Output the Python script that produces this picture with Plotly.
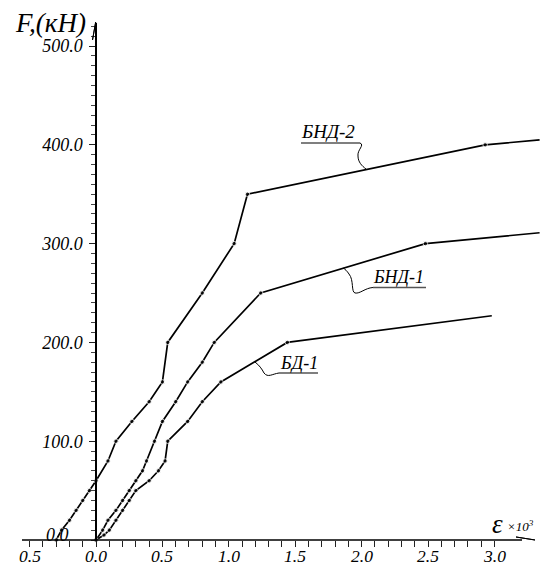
import numpy as np
import plotly.graph_objects as go

W, H = 540, 565

# ---------------- data (strain x10^3, load kN) ----------------
bnd2_eps = [-0.30, -0.26, -0.20, -0.15, -0.10, -0.05, 0.00, 0.09, 0.15, 0.27, 0.40, 0.50, 0.54, 0.80, 1.04, 1.14, 2.93, 3.34]
bnd2_F = [0, 10, 20, 30, 40, 50, 60, 80, 100, 120, 140, 160, 200, 250, 300, 350, 400, 405]

bnd1_eps = [0.00, 0.05, 0.09, 0.15, 0.20, 0.25, 0.30, 0.35, 0.38, 0.44, 0.50, 0.60, 0.69, 0.80, 0.89, 1.24, 2.48, 3.34]
bnd1_F = [0, 10, 20, 30, 40, 50, 60, 70, 80, 100, 120, 140, 160, 180, 200, 250, 300, 311]

bd1_eps = [0.00, 0.06, 0.10, 0.15, 0.20, 0.25, 0.30, 0.40, 0.47, 0.52, 0.54, 0.69, 0.80, 0.94, 1.44, 2.98]
bd1_F = [0, 5, 10, 20, 30, 40, 50, 60, 70, 80, 100, 120, 140, 160, 200, 227]

x_tickvals = [-0.5, 0.0, 0.5, 1.0, 1.5, 2.0, 2.5, 3.0]
x_ticktext = ["0.5", "0.0", "0.5", "1.0", "1.5", "2.0", "2.5", "3.0"]
y_tickvals = [100, 200, 300, 400, 500]
y_ticktext = ["100.0", "200.0", "300.0", "400.0", "500.0"]

series = [("БНД-2", bnd2_eps, bnd2_F), ("БНД-1", bnd1_eps, bnd1_F), ("БД-1", bd1_eps, bd1_F)]

SERIF = "Liberation Serif, Times New Roman, DejaVu Serif, serif"


def P(px, py):
    return px / W, 1 - py / H


def path(points, close=False):
    s = ""
    for cmd, pts in points:
        coords = " ".join("%.5f,%.5f" % P(a, b) for a, b in pts)
        s += cmd + coords + " "
    if close:
        s += "Z"
    return s


fig = go.Figure()
for name, xs, ys in series:
    sizes = [4.5] * (len(xs) - 1) + [0]
    fig.add_trace(go.Scatter(
        x=xs, y=ys, mode="lines+markers", name=name,
        line=dict(color="black", width=1.7),
        marker=dict(size=sizes, color="black"),
        cliponaxis=False, hoverinfo="skip"))

minor_x = [v for v in np.round(np.arange(-0.5, 3.05, 0.1), 2) if abs(v * 2 - round(v * 2)) > 1e-6]

fig.update_layout(
    template="none",
    width=W, height=H, margin=dict(l=0, r=0, t=0, b=0, autoexpand=False),
    paper_bgcolor="white", plot_bgcolor="white", showlegend=False,
    xaxis=dict(domain=[0, 1], range=[-0.723, 3.343], anchor="y", automargin=False,
               showgrid=False, zeroline=False, showline=False, showticklabels=False,
               ticks="outside", ticklen=6, tickwidth=1, tickcolor="#222",
               tickmode="array", tickvals=x_tickvals,
               minor=dict(tickmode="array", tickvals=minor_x, ticks="outside",
                          ticklen=6, tickwidth=1, tickcolor="#222", showgrid=False)),
    yaxis=dict(domain=[25 / H, 1 - 23 / H], range=[0, 523.3], anchor="free",
               position=96 / W, showgrid=False, zeroline=False, automargin=False,
               showline=True, linecolor="black", linewidth=1.5,
               ticks="outside", ticklen=6, tickwidth=1, tickcolor="#222",
               tickmode="array", tickvals=y_tickvals, ticktext=y_ticktext,
               ticklabelstandoff=3,
               tickfont=dict(family=SERIF, size=18, style="italic", color="black"),
               minor=dict(dtick=10, tick0=0, ticks="outside", ticklen=4,
                          tickwidth=1, tickcolor="#444", showgrid=False)),
)

shapes = []
# x axis line + arrow
x0p, _ = P(22, 0)
x1p, _ = P(522, 0)
shapes.append(dict(type="line", xref="paper", yref="paper", x0=x0p, x1=x1p,
                   y0=25 / H, y1=25 / H, line=dict(color="black", width=1.5)))
shapes.append(dict(type="path", xref="paper", yref="paper",
                   path=path([("M", [(535, 540)]), ("L", [(516, 537), (516, 543)])], close=True),
                   fillcolor="black", line=dict(color="black", width=1)))
# y axis arrow
shapes.append(dict(type="path", xref="paper", yref="paper",
                   path=path([("M", [(95.7, 22)]), ("L", [(92.5, 40), (98.9, 40)])], close=True),
                   fillcolor="black", line=dict(color="black", width=1)))

# underlines
for (a, b, yy) in [(301, 360, 143), (373, 426, 287.5), (279, 318, 373)]:
    xa, ya = P(a, yy)
    xb, _ = P(b, yy)
    shapes.append(dict(type="line", xref="paper", yref="paper", x0=xa, x1=xb, y0=ya, y1=ya,
                       line=dict(color="#555", width=1.5)))

# leader curves
leaders = [
    [("M", [(360, 143)]), ("C", [(365, 145), (357, 150), (358, 156)]), ("C", [(358, 162), (362, 166), (366, 169)])],
    [("M", [(373, 287.5)]), ("C", [(365, 288), (360, 294), (355, 293)]), ("C", [(351, 292), (354, 280), (349, 274)]),
     ("C", [(347, 271), (345, 269), (343, 268)])],
    [("M", [(279, 373)]), ("C", [(272, 374), (268, 378), (264, 373)]), ("C", [(262, 369), (259, 365), (255, 362)])],
]
for lp in leaders:
    shapes.append(dict(type="path", xref="paper", yref="paper", path=path(lp),
                       line=dict(color="black", width=1)))

fig.update_layout(shapes=shapes)


def note(text, px, py, size, xanchor="center", yanchor="middle"):
    x, y = P(px, py)
    fig.add_annotation(x=x, y=y, xref="paper", yref="paper", text=text, showarrow=False,
                       xanchor=xanchor, yanchor=yanchor, borderpad=0,
                       font=dict(family=SERIF, size=size, style="italic", color="black"))


# x tick labels placed just under the ticks
for v, t in zip(x_tickvals, x_ticktext):
    fig.add_annotation(x=v, y=25 / H, xref="x", yref="paper", yshift=-5, text=t, showarrow=False,
                       xanchor="center", yanchor="top", borderpad=0,
                       font=dict(family=SERIF, size=17.5, style="italic", color="black"))

note("F,(кН)", 50, 23, 27)
note("0.0", 57, 535, 18)
note("ε", 497, 524, 27)
note("×10<sup>3</sup>", 506, 526, 13, xanchor="left")
note("БНД-2", 300, 131, 19, xanchor="left")
note("БНД-1", 372, 277, 18, xanchor="left")
note("БД-1", 279, 363, 18, xanchor="left")

fig.write_html("out.html", config={"displayModeBar": False},
               post_script="document.body.style.margin='0';document.body.style.padding='0';"
                           "document.documentElement.style.overflow='hidden';")
